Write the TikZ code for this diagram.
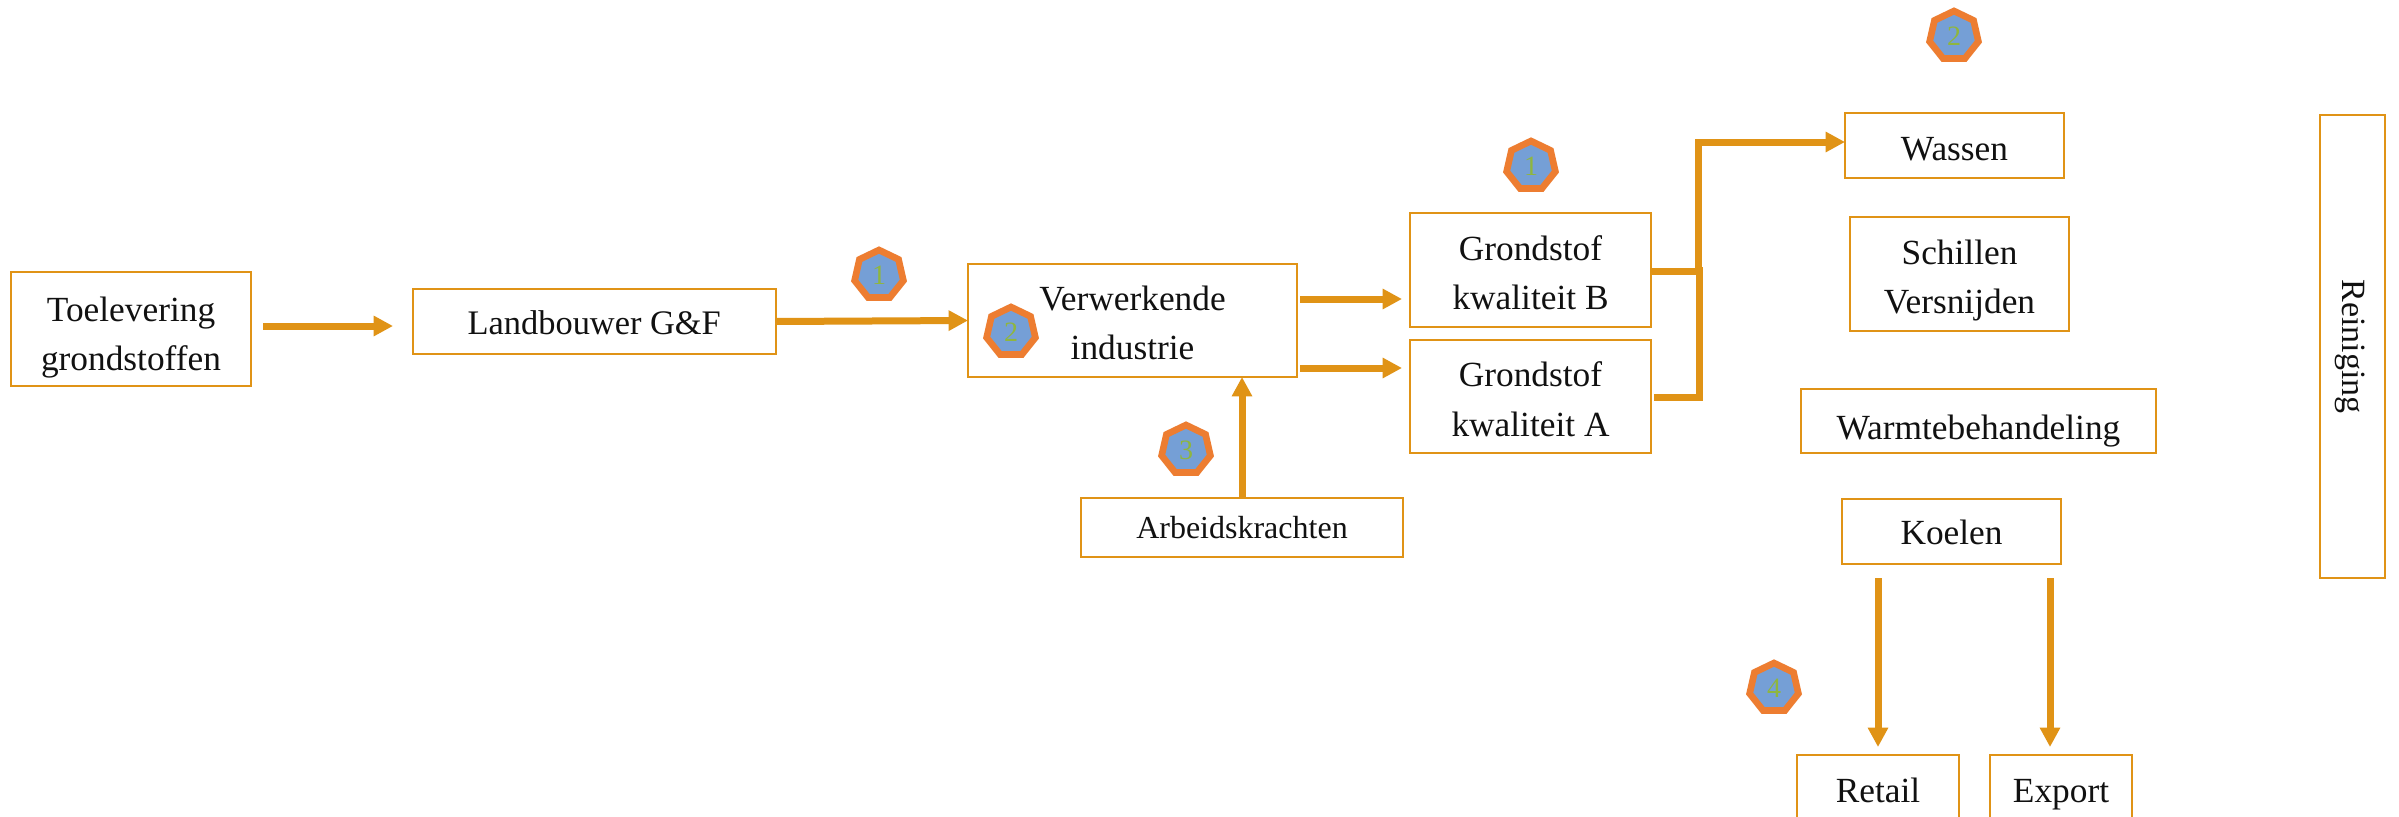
\documentclass[tikz,border=0pt]{standalone}
\usepackage{fontspec}
\setmainfont{Liberation Serif}
\usetikzlibrary{arrows.meta,shapes.geometric}
\definecolor{amber}{HTML}{E09316}
\definecolor{hexo}{HTML}{ED7D31}
\definecolor{hexb}{HTML}{759FD6}
\definecolor{hexg}{HTML}{8FB63E}
\definecolor{ink}{HTML}{111111}
\newcommand{\lowtext}[2]{\raisebox{\dimexpr-#1pt-0.25em\relax}[0pt][0pt]{\begin{tabular}{@{}c@{}}#2\end{tabular}}}
\tikzset{
  px/.style 2 args={minimum width=#1*0.75pt,minimum height=#2*0.75pt},
  pbox/.style={draw=amber,line width=1.5pt,fill=white,inner sep=0pt,outer sep=0pt,align=center,text=ink,
    font=\fontsize{26.5}{37}\selectfont},
  hept/.style={regular polygon,regular polygon sides=7,draw=hexo,fill=hexb,line width=5pt,
    minimum size=37.5pt,inner sep=0pt,text=hexg,font=\fontsize{21}{21}\selectfont},
  flow/.style={draw=amber,line width=5.25pt},
  flowa/.style={flow,-{Triangle[length=14.5pt,width=14.5pt]}},
}
\begin{document}
\begin{tikzpicture}[x=0.75pt,y=-0.75pt]
\clip (0,0) rectangle (2399,817);
\fill[white] (0,0) rectangle (2399,817);
% connectors' free ends
\coordinate (a1s) at (263,326);
\coordinate (a1e) at (393,326);
\coordinate (vbs) at (1300,299);
\coordinate (vbe) at (1402,299);
\coordinate (vas) at (1300,368);
\coordinate (vae) at (1402,368);
\coordinate (rs) at (1878,578);
\coordinate (re) at (1878,747);
\coordinate (xs) at (2050,578);
\coordinate (xe) at (2050,747);
\coordinate (jb) at (1651,271);
\coordinate (ja) at (1654,397);
\coordinate (jt) at (1699,267);
\coordinate (jc) at (1698,142);
\coordinate (je) at (1845,142);
% boxes
\node[pbox,px={240}{114}] (t) at (131,329) {\lowtext{5}{Toelevering\\grondstoffen}};
\node[pbox,px={362.5}{65},font=\fontsize{25.8}{37}\selectfont] (l) at (594.25,321.5) {\lowtext{2.3}{Landbouwer G\&F}};
\node[pbox,px={329}{113}] (v) at (1132.5,320.5) {\lowtext{3}{Verwerkende\\industrie}};
\node[pbox,px={322}{59},font=\fontsize{24}{30}\selectfont] (w) at (1242,527.5) {\lowtext{2.3}{Arbeidskrachten}};
\node[pbox,px={241}{114}] (b) at (1530.5,270) {\lowtext{3.5}{Grondstof\\kwaliteit B}};
\node[pbox,px={241}{113}] (a) at (1530.5,396.5) {\lowtext{3.5}{Grondstof\\kwaliteit A}};
\node[pbox,px={219}{65}] (was) at (1954.5,145.5) {\lowtext{3.4}{Wassen}};
\node[pbox,px={219}{114}] (sch) at (1959.5,274) {\lowtext{3.5}{Schillen\\Versnijden}};
\node[pbox,px={355}{64}] (war) at (1978.5,421) {\lowtext{6}{Warmtebehandeling}};
\node[pbox,px={219}{65}] (koe) at (1951.5,531.5) {\lowtext{2.3}{Koelen}};
\node[pbox,px={162}{74}] (ret) at (1878,792) {\lowtext{0}{Retail}};
\node[pbox,px={142}{74}] (exp) at (2061,792) {\lowtext{0}{Export}};
\node[pbox,px={65}{463},font=\fontsize{25.5}{30}\selectfont] (rei) at (2352.5,346.5) {\hspace*{-4pt}\rotatebox{-90}{Reiniging}};
% connectors
\draw[flowa] (a1s) -- (a1e);
\draw[flowa] (l.east) -- (v.west);
\draw[flowa] (vbs) -- (vbe);
\draw[flowa] (vas) -- (vae);
\draw[flowa] (w.north) -- (w.north |- v.south);
\draw[flow] (jb) -- (jb -| jt);
\draw[flow] (ja) -| (jt);
\draw[flowa] (jb -| jc) -- (jc) -- (je);
\draw[flowa] (rs) -- (re);
\draw[flowa] (xs) -- (xe);
% badges
\node[hept] (h1) at (879,275) {1};
\node[hept] (h2) at (1011,332) {2};
\node[hept] (h3) at (1186,450) {3};
\node[hept] (h4) at (1954,36) {2};
\node[hept] (h5) at (1531,166) {1};
\node[hept] (h6) at (1774,688) {4};
\end{tikzpicture}
\end{document}
